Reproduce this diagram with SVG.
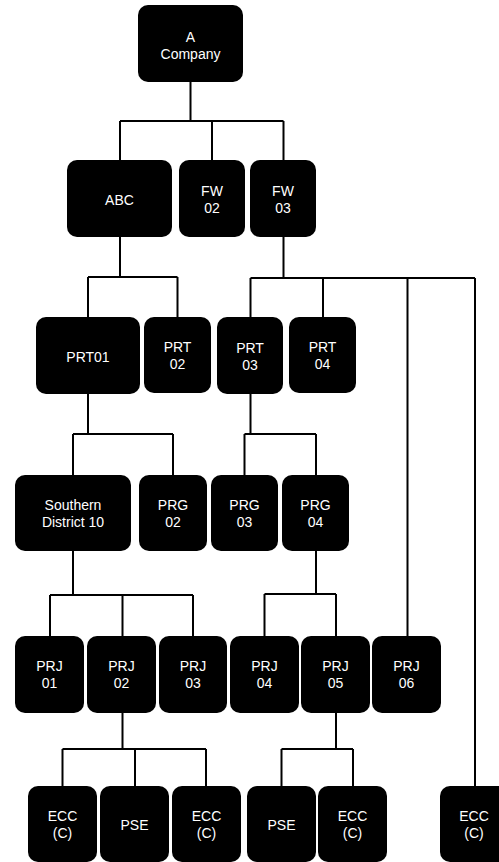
<svg xmlns="http://www.w3.org/2000/svg" width="499" height="862" viewBox="0 0 499 862">
<style>
.n rect{fill:#000;}
.n text{fill:#fff;font-family:"Liberation Sans",Arial,sans-serif;font-size:14px;text-anchor:middle;}
.c path{fill:none;stroke:#000;stroke-width:2;}
</style>
<rect width="499" height="862" fill="#fff"/>
<g class="c" id="connectors">
<path d="M190.5 82V121M120 121H283.5M120 121V160M212 121V160M283.5 121V160"/>
<path d="M120 237V277M88 277H177.5M88 277V317M177.5 277V317"/>
<path d="M283.5 237V278M250.5 278H475M250.5 278V317M323 278V317M407.5 278V636M475 278V786"/>
<path d="M88 394V434M73 434H173M73 434V475M173 434V475"/>
<path d="M250.5 394V434M244.5 434H316M244.5 434V475M316 434V475"/>
<path d="M73 551V595M50 595H193M50 595V636M122.5 595V636M193 595V636"/>
<path d="M316 551V594M264.5 594H336M264.5 594V636M336 594V636"/>
<path d="M122.5 713V749M62.5 749H206M62.5 749V786M135 749V786M206 749V786"/>
<path d="M336 712V749M281.5 749H353M281.5 749V786M353 749V786"/>
</g>
<g class="n" id="n-acompany"><rect x="138" y="5" width="105" height="77" rx="10"/><text x="190.5" y="41.5">A</text><text x="190.5" y="58.5">Company</text></g>
<g class="n" id="n-abc"><rect x="67" y="160" width="105" height="77" rx="10"/><text x="119.5" y="205">ABC</text></g>
<g class="n" id="n-fw02"><rect x="179" y="160" width="66" height="77" rx="10"/><text x="212" y="196">FW</text><text x="212" y="213">02</text></g>
<g class="n" id="n-fw03"><rect x="250" y="160" width="66" height="77" rx="10"/><text x="283" y="196">FW</text><text x="283" y="213">03</text></g>
<g class="n" id="n-prt01"><rect x="36" y="317" width="104" height="77" rx="10"/><text x="88" y="361.5">PRT01</text></g>
<g class="n" id="n-prt02"><rect x="144" y="317" width="67" height="76" rx="10"/><text x="177.5" y="352">PRT</text><text x="177.5" y="369">02</text></g>
<g class="n" id="n-prt03"><rect x="217" y="317" width="66" height="77" rx="10"/><text x="250" y="353">PRT</text><text x="250" y="370">03</text></g>
<g class="n" id="n-prt04"><rect x="289" y="317" width="67" height="76" rx="10"/><text x="322.5" y="352">PRT</text><text x="322.5" y="369">04</text></g>
<g class="n" id="n-southern"><rect x="15" y="475" width="116" height="76" rx="10"/><text x="73" y="510">Southern</text><text x="73" y="527">District 10</text></g>
<g class="n" id="n-prg02"><rect x="139" y="475" width="68" height="76" rx="10"/><text x="173" y="510">PRG</text><text x="173" y="527">02</text></g>
<g class="n" id="n-prg03"><rect x="211" y="475" width="67" height="76" rx="10"/><text x="244.5" y="510">PRG</text><text x="244.5" y="527">03</text></g>
<g class="n" id="n-prg04"><rect x="282" y="475" width="67" height="76" rx="10"/><text x="315.5" y="510">PRG</text><text x="315.5" y="527">04</text></g>
<g class="n" id="n-prj01"><rect x="15" y="636" width="69" height="77" rx="10"/><text x="49.5" y="671">PRJ</text><text x="49.5" y="688">01</text></g>
<g class="n" id="n-prj02"><rect x="87" y="636" width="69" height="77" rx="10"/><text x="121.5" y="671">PRJ</text><text x="121.5" y="688">02</text></g>
<g class="n" id="n-prj03"><rect x="159" y="636" width="68" height="77" rx="10"/><text x="193" y="671">PRJ</text><text x="193" y="688">03</text></g>
<g class="n" id="n-prj04"><rect x="230" y="636" width="69" height="77" rx="10"/><text x="264.5" y="671">PRJ</text><text x="264.5" y="688">04</text></g>
<g class="n" id="n-prj05"><rect x="301" y="636" width="69" height="77" rx="10"/><text x="335.5" y="671">PRJ</text><text x="335.5" y="688">05</text></g>
<g class="n" id="n-prj06"><rect x="372" y="636" width="69" height="77" rx="10"/><text x="406.5" y="671">PRJ</text><text x="406.5" y="688">06</text></g>
<g class="n" id="n-ecc1"><rect x="28" y="786" width="69" height="76" rx="10"/><text x="62.5" y="821">ECC</text><text x="62.5" y="838">(C)</text></g>
<g class="n" id="n-pse1"><rect x="100" y="786" width="69" height="76" rx="10"/><text x="134.5" y="830">PSE</text></g>
<g class="n" id="n-ecc2"><rect x="172" y="786" width="69" height="76" rx="10"/><text x="206.5" y="821">ECC</text><text x="206.5" y="838">(C)</text></g>
<g class="n" id="n-pse2"><rect x="247" y="786" width="69" height="76" rx="10"/><text x="281.5" y="830">PSE</text></g>
<g class="n" id="n-ecc3"><rect x="318" y="786" width="69" height="76" rx="10"/><text x="352.5" y="821">ECC</text><text x="352.5" y="838">(C)</text></g>
<g class="n" id="n-ecc4"><rect x="440" y="786" width="69" height="76" rx="10"/><text x="474" y="821">ECC</text><text x="474" y="838">(C)</text></g>
</svg>
